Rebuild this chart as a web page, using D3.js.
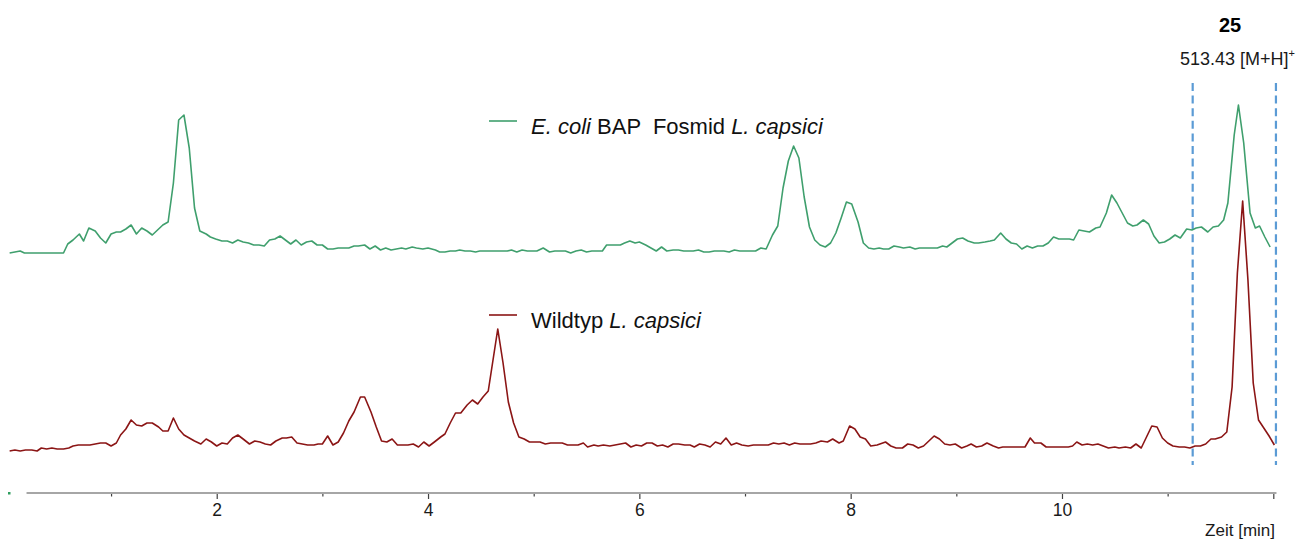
<!DOCTYPE html>
<html><head><meta charset="utf-8">
<script src="https://cdn.jsdelivr.net/npm/d3@7/dist/d3.min.js"></script>
<style>
html,body{margin:0;padding:0;background:#fff;}
svg{display:block;font-family:"Liberation Sans",Arial,sans-serif;}
text,tspan{white-space:pre;}
</style></head>
<body>
<svg id="chart" width="1303" height="540"></svg>
<script>
// ---- data (time in min, relative intensity) ----
const greenTime = [0.04,0.14,0.18,0.55,0.59,0.64,0.70,0.74,0.79,0.85,0.90,0.95,1.00,1.05,1.09,1.14,1.19,1.24,1.29,1.34,1.39,1.44,1.49,1.54,1.59,1.64,1.69,1.74,1.79,1.84,1.90,1.94,1.99,2.05,2.10,2.15,2.20,2.25,2.30,2.35,2.40,2.45,2.50,2.55,2.60,2.65,2.70,2.75,2.80,2.85,2.90,2.95,3.00,3.05,3.10,3.15,3.20,3.25,3.30,3.34,3.40,3.45,3.50,3.55,3.60,3.65,3.70,3.75,3.79,3.85,3.89,3.95,4.00,4.07,4.11,4.16,4.21,4.26,4.30,4.35,4.40,4.45,4.49,4.55,4.60,4.65,4.70,4.75,4.79,4.84,4.89,4.94,4.98,5.03,5.09,5.15,5.20,5.25,5.30,5.35,5.40,5.45,5.50,5.55,5.60,5.65,5.69,5.76,5.82,5.86,5.91,5.96,6.00,6.06,6.11,6.16,6.21,6.26,6.32,6.37,6.42,6.47,6.51,6.56,6.61,6.66,6.71,6.75,6.80,6.85,6.90,6.95,7.00,7.05,7.10,7.15,7.20,7.26,7.31,7.36,7.41,7.46,7.51,7.56,7.61,7.66,7.71,7.76,7.81,7.86,7.91,7.96,8.01,8.07,8.12,8.17,8.22,8.27,8.31,8.36,8.41,8.46,8.50,8.56,8.61,8.65,8.70,8.76,8.82,8.87,8.91,8.96,9.01,9.06,9.11,9.17,9.21,9.27,9.32,9.36,9.42,9.47,9.52,9.57,9.62,9.67,9.72,9.77,9.82,9.87,9.92,9.97,10.01,10.07,10.11,10.16,10.21,10.26,10.32,10.36,10.42,10.47,10.52,10.57,10.62,10.67,10.71,10.77,10.82,10.87,10.92,10.97,11.02,11.07,11.12,11.18,11.23,11.27,11.32,11.38,11.43,11.48,11.53,11.57,11.63,11.67,11.72,11.78,11.83,11.87,11.92,11.97];
const greenValues = [0,2,0,0,9,13,19,12,25,22,15,10,19,21,21,24,28,19,25,22,18,23,28,31,70,133,138,105,45,22,19,16,14,12,12,10,13,11,10,8,8,7,13,14,17,13,9,13,8,11,12,8,8,4,4,5,5,5,7,7,8,4,7,3,5,3,4,5,4,6,5,4,5,3,1,1,2,2,3,2,2,1,2,2,2,2,2,2,3,1,3,2,2,2,5,1,2,2,2,0,2,3,1,2,2,2,8,8,8,10,12,10,11,8,5,2,6,2,3,3,2,2,2,3,1,1,2,2,2,1,3,2,2,2,2,5,4,18,27,65,92,107,95,56,26,13,8,6,10,20,35,51,49,31,10,5,4,5,4,4,7,6,5,6,4,5,5,5,5,7,6,10,14,15,12,10,10,11,12,13,20,14,10,9,4,7,5,7,7,10,16,14,14,14,13,23,22,21,25,26,40,58,50,40,30,27,28,33,29,17,10,11,14,18,15,24,23,25,26,21,26,27,33,50,118,148,110,40,25,27,16,6];

const redTime = [0.04,0.09,0.14,0.19,0.25,0.30,0.34,0.39,0.44,0.49,0.55,0.60,0.64,0.69,0.74,0.80,0.85,0.90,0.95,1.00,1.05,1.09,1.14,1.19,1.24,1.29,1.34,1.39,1.45,1.49,1.54,1.59,1.64,1.69,1.74,1.79,1.85,1.90,1.95,2.00,2.05,2.10,2.15,2.20,2.25,2.31,2.36,2.41,2.46,2.51,2.56,2.62,2.66,2.71,2.76,2.81,2.86,2.92,2.96,3.00,3.05,3.10,3.15,3.20,3.25,3.30,3.36,3.40,3.46,3.51,3.56,3.61,3.66,3.71,3.76,3.81,3.86,3.91,3.96,4.01,4.06,4.12,4.16,4.21,4.26,4.31,4.37,4.42,4.47,4.52,4.57,4.66,4.71,4.76,4.81,4.86,4.91,4.96,5.01,5.06,5.11,5.16,5.21,5.27,5.32,5.37,5.42,5.47,5.51,5.57,5.61,5.66,5.72,5.77,5.82,5.87,5.92,5.97,6.02,6.07,6.12,6.17,6.22,6.27,6.32,6.37,6.43,6.48,6.52,6.57,6.62,6.67,6.72,6.77,6.82,6.87,6.92,6.97,7.03,7.08,7.12,7.17,7.22,7.27,7.32,7.37,7.42,7.47,7.52,7.57,7.62,7.67,7.72,7.78,7.83,7.89,7.93,7.99,8.04,8.09,8.14,8.19,8.25,8.33,8.38,8.43,8.49,8.54,8.59,8.64,8.69,8.74,8.79,8.84,8.89,8.94,8.99,9.05,9.10,9.14,9.19,9.24,9.29,9.35,9.40,9.44,9.50,9.54,9.60,9.65,9.70,9.74,9.80,9.85,9.90,9.95,10.00,10.06,10.10,10.14,10.19,10.24,10.29,10.34,10.39,10.44,10.50,10.54,10.60,10.65,10.70,10.75,10.80,10.85,10.90,10.95,11.00,11.05,11.11,11.16,11.21,11.26,11.31,11.36,11.41,11.45,11.51,11.56,11.61,11.66,11.71,11.76,11.81,11.86,11.91,11.96,12.01];
const redValues = [1,2,1,2,2,1,4,3,4,3,3,4,6,7,7,7,8,9,9,6,9,17,23,32,27,26,29,29,25,21,21,34,23,17,14,11,8,13,10,6,9,8,14,17,13,8,11,10,8,7,11,14,14,15,9,8,7,7,8,8,16,7,10,19,31,40,55,55,40,25,11,10,13,7,7,7,8,5,10,6,10,15,18,29,39,39,47,52,48,55,61,123,89,50,29,15,13,10,10,10,8,9,9,9,7,7,7,9,5,7,6,7,6,7,8,9,5,7,6,9,9,6,7,5,8,8,7,7,5,8,7,5,10,8,14,7,9,7,6,7,7,7,7,9,8,9,7,9,8,8,8,9,11,10,13,9,11,26,23,15,13,6,7,10,6,4,4,8,7,4,6,11,16,13,8,7,8,4,6,8,5,6,9,6,4,5,5,5,5,5,14,9,9,5,5,5,5,5,6,10,7,8,7,8,6,4,5,4,5,4,8,4,15,26,25,14,9,6,5,5,4,6,6,8,13,13,15,20,65,179,251,172,69,32,24,16,7];

const xTicks = [1,2,3,4,5,6,7,8,9,10,11,12];
const xTickLabels = {2:"2",4:"4",6:"6",8:"8",10:"10"};
const markerTimes = [11.237, 12.025];
const compoundLabel = "25";
const massLabel = "513.43 [M+H]";

// ---- drawing ----
const svg = d3.select("#chart");
const GREEN = "#3f9f6d", RED = "#8b1515", BLUE = "#5b9bd5";

const x = d3.scaleLinear().domain([0, 12]).range([5.4, 1273.3]);
const yGreen = d3.scaleLinear().domain([0, 150]).range([253, 103]);
const yRed = d3.scaleLinear().domain([0, 260]).range([452, 192]);

// axis
const axisY = 493;
const axis = d3.axisBottom(x).tickValues(xTicks).tickSize(5).tickPadding(6)
  .tickFormat(d => xTickLabels[d] || "");
const gAxis = svg.append("g").attr("transform", `translate(0,${axisY})`).call(axis);
gAxis.select(".domain").remove();
gAxis.insert("line", ":first-child")
  .attr("x1", x(0.2)).attr("x2", x(12.03)).attr("y1", 0).attr("y2", 0)
  .attr("stroke", "#a6a6a6").attr("stroke-width", 1.8);
gAxis.selectAll(".tick line")
  .attr("stroke", "#404040").attr("stroke-width", 1.2)
  .attr("y1", 1)
  .attr("y2", d => (xTickLabels[d] || d === 12) ? 6 : 3.5);
gAxis.selectAll(".tick text")
  .attr("font-size", 17.5).attr("fill", "#1a1a1a")
  .attr("font-family", "'Liberation Sans',Arial,sans-serif");

svg.append("text").attr("x", 1275).attr("y", 536).attr("text-anchor", "end")
  .attr("font-size", 17).attr("fill", "#1a1a1a").text("Zeit [min]");

// tiny green marker at far left
svg.append("rect").attr("x", 8).attr("y", 492).attr("width", 2.5).attr("height", 2.5).attr("fill", "#2f9e5f");

// marker lines
svg.selectAll("line.marker").data(markerTimes).join("line")
  .attr("class", "marker")
  .attr("x1", d => x(d)).attr("x2", d => x(d))
  .attr("y1", 83).attr("y2", 465)
  .attr("stroke", BLUE).attr("stroke-width", 2.2)
  .attr("stroke-dasharray", "8,4.6");

// traces
const greenData = greenTime.map((t, i) => [t, greenValues[i]]);
const redData = redTime.map((t, i) => [t, redValues[i]]);
svg.append("path").datum(greenData)
  .attr("fill", "none").attr("stroke", GREEN).attr("stroke-width", 1.6).attr("stroke-linejoin", "round")
  .attr("d", d3.line().x(d => x(d[0])).y(d => yGreen(d[1])));
svg.append("path").datum(redData)
  .attr("fill", "none").attr("stroke", RED).attr("stroke-width", 1.6).attr("stroke-linejoin", "round")
  .attr("d", d3.line().x(d => x(d[0])).y(d => yRed(d[1])));

// legends
function legend(yLine, yText, color, parts) {
  svg.append("line").attr("x1", 489).attr("x2", 517).attr("y1", yLine).attr("y2", yLine)
    .attr("stroke", color).attr("stroke-width", 1.6);
  const t = svg.append("text").attr("x", 531).attr("y", yText).attr("font-size", 22).attr("fill", "#111");
  parts.forEach(p => t.append("tspan").attr("font-style", p[1] ? "italic" : "normal").text(p[0]));
}
legend(121, 134, GREEN, [["E. coli", true], [" BAP  Fosmid ", false], ["L. capsici", true]]);
legend(315, 328, RED, [["Wildtyp ", false], ["L. capsici", true]]);

// annotation
svg.append("text").attr("x", 1230).attr("y", 32).attr("text-anchor", "middle")
  .attr("font-size", 20).attr("font-weight", "bold").attr("fill", "#000").text(compoundLabel);
const m = svg.append("text").attr("x", 1180).attr("y", 65).attr("font-size", 18).attr("fill", "#1a1a1a");
m.append("tspan").text(massLabel);
m.append("tspan").attr("font-size", 11).attr("dy", -8).text("+");
</script>
</body></html>
